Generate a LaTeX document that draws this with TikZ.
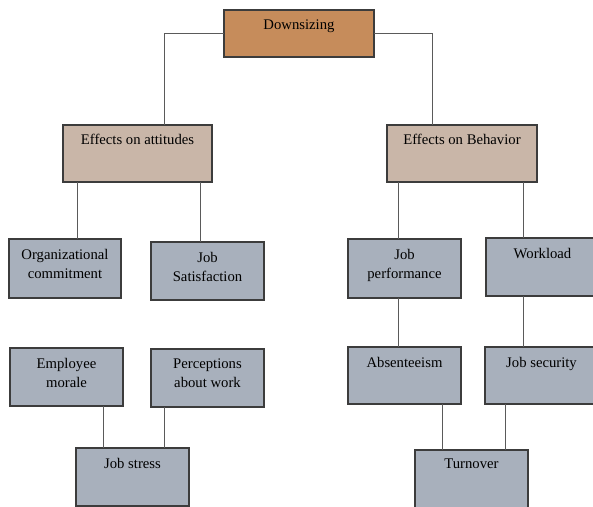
\documentclass[tikz,border=0pt]{standalone}
\usepackage{fontspec}
\setmainfont{Liberation Serif}
\definecolor{downfill}{HTML}{C68C5B}
\definecolor{efffill}{HTML}{C9B6A8}
\definecolor{itemfill}{HTML}{A8B0BC}
\definecolor{boxline}{HTML}{3C3C3C}
\definecolor{linkline}{HTML}{5A5A5A}

\begin{document}
\begin{tikzpicture}[x=1pt,y=-1pt,
  box/.style={draw=boxline,line width=1.2pt,anchor=north west,inner sep=0pt,outer sep=0pt,
    minimum width=113pt,minimum height=58pt,fill=itemfill},
  txt/.style={anchor=north,inner sep=0pt,align=center,font=\fontsize{14.7}{19}\selectfont},
  link/.style={draw=linkline,line width=1pt}]
\clip (0,0) rectangle (593,506);
\fill[white] (0,0) rectangle (593,506);

% top level
\node[box,fill=downfill,minimum width=150pt,minimum height=47pt] (down) at (224,10) {};
\node[txt] (down-t) at ([yshift=-10pt]down.north) {Downsizing};

% effects
\node[box,fill=efffill,minimum width=149pt,minimum height=57pt] (att) at (63,125) {};
\node[txt] (att-t) at ([yshift=-9pt]att.north) {Effects on attitudes};
\node[box,fill=efffill,minimum width=150pt,minimum height=57pt] (beh) at (387,125) {};
\node[txt] (beh-t) at ([yshift=-9pt]beh.north) {Effects on Behavior};

% attitudes side
\node[box,minimum width=112pt,minimum height=59pt] (org) at (9,239) {};
\node[txt] (org-t) at ([yshift=-10pt]org.north) {Organizational\\commitment};
\node[box] (sat) at (151,242) {};
\node[txt] (sat-t) at ([yshift=-10pt]sat.north) {Job\\Satisfaction};
\node[box] (mor) at (10,348) {};
\node[txt] (mor-t) at ([yshift=-10pt]mor.north) {Employee\\morale};
\node[box] (perc) at (151,349) {};
\node[txt] (perc-t) at ([yshift=-10pt]perc.north) {Perceptions\\about work};
\node[box] (stress) at (76,448) {};
\node[txt] (stress-t) at ([yshift=-10pt]stress.north) {Job stress};

% behavior side
\node[box,minimum height=59pt] (perf) at (348,239) {};
\node[txt] (perf-t) at ([yshift=-10pt]perf.north) {Job\\performance};
\node[box] (work) at (486,238) {};
\node[txt] (work-t) at ([yshift=-10pt]work.north) {Workload};
\node[box,minimum height=57pt] (abs) at (348,347) {};
\node[txt] (abs-t) at ([yshift=-10pt]abs.north) {Absenteeism};
\node[box,minimum height=57pt] (sec) at (485,347) {};
\node[txt] (sec-t) at ([yshift=-10pt]sec.north) {Job security};
\node[box] (turn) at (415,450) {};
\node[txt] (turn-t) at ([yshift=-9pt]turn.north) {Turnover};

% connectors
\draw[link] (down.west) -| (att.north -| 164,0);
\draw[link] (down.east) -| (beh.north -| 432,0);
\draw[link] (att.south -| 77,0) -- (org.north -| 77,0);
\draw[link] (att.south -| 200,0) -- (sat.north -| 200,0);
\draw[link] (beh.south -| 398,0) -- (perf.north -| 398,0);
\draw[link] (beh.south -| 523,0) -- (work.north -| 523,0);
\draw[link] (mor.south -| 103,0) -- (stress.north -| 103,0);
\draw[link] (perc.south -| 164,0) -- (stress.north -| 164,0);
\draw[link] (perf.south -| 398,0) -- (abs.north -| 398,0);
\draw[link] (work.south -| 523,0) -- (sec.north -| 523,0);
\draw[link] (abs.south -| 442,0) -- (turn.north -| 442,0);
\draw[link] (sec.south -| 505,0) -- (turn.north -| 505,0);
\end{tikzpicture}
\end{document}
